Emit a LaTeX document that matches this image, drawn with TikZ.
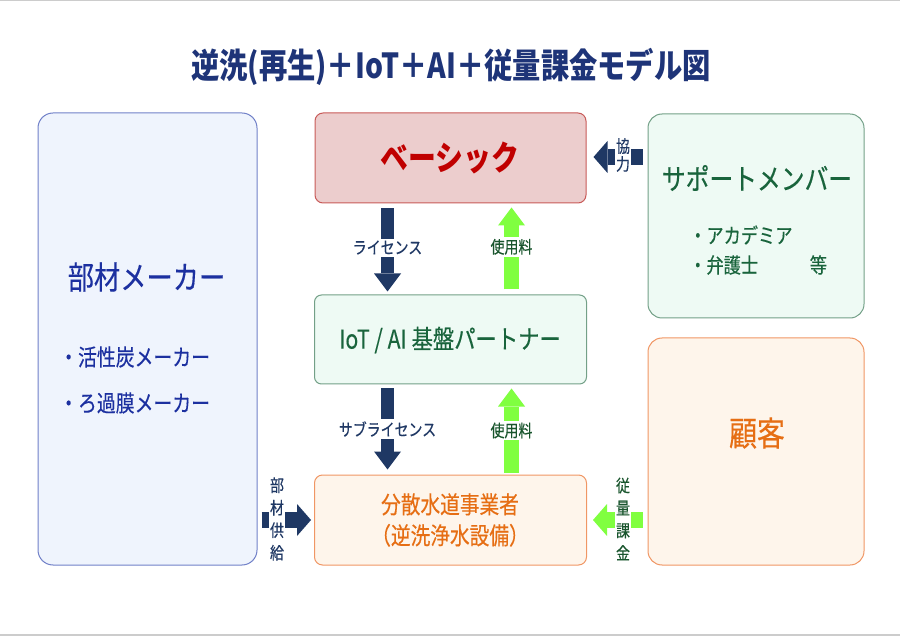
\documentclass[tikz,border=0pt]{standalone}
\usepackage{fontspec}
\setmainfont[FakeStretch=0.82,UprightFeatures={FakeBold=0.35}]{Noto Sans CJK JP}
\usetikzlibrary{arrows.meta,calc}
\definecolor{navy}{RGB}{31,56,100}
\definecolor{titleblue}{RGB}{30,52,120}
\definecolor{leftblue}{RGB}{28,48,160}
\definecolor{leftfill}{RGB}{239,244,253}
\definecolor{leftdraw}{RGB}{112,128,200}
\definecolor{redfill}{RGB}{236,205,205}
\definecolor{reddraw}{RGB}{200,90,88}
\definecolor{redtext}{RGB}{192,0,0}
\definecolor{grnfill}{RGB}{238,250,244}
\definecolor{grndraw}{RGB}{115,160,135}
\definecolor{grntext}{RGB}{25,100,60}
\definecolor{orgfill}{RGB}{254,245,235}
\definecolor{orgdraw}{RGB}{240,150,100}
\definecolor{orgtext}{RGB}{230,110,20}
\definecolor{arrgreen}{RGB}{128,255,64}
\definecolor{lblgreen}{RGB}{25,85,45}
\tikzset{
  box/.style={draw, line width=1pt, inner sep=0pt},
  bluebox/.style={box, fill=leftfill, draw=leftdraw},
  redbox/.style={box, fill=redfill, draw=reddraw},
  grnbox/.style={box, fill=grnfill, draw=grndraw},
  orgbox/.style={box, fill=orgfill, draw=orgdraw},
  txt/.style={inner sep=0pt, align=center},
  vnavy/.style={draw=navy, line width=13pt, -{Triangle[width=27pt,length=18pt,line width=0pt]}},
  vgreen/.style={draw=arrgreen, line width=15pt, -{Triangle[width=27pt,length=18pt,line width=0pt]}},
  hnavy/.style={draw=navy, line width=16pt, -{Triangle[width=32pt,length=14pt,line width=0pt]}},
  hgreen/.style={draw=arrgreen, line width=16pt, -{Triangle[width=32pt,length=14pt,line width=0pt]}},
  lbl/.style={fill=white, inner sep=2pt, align=center, font=\fontsize{17}{21}\selectfont},
}
\begin{document}
\begin{tikzpicture}[x=1pt,y=-1pt]
\useasboundingbox (0,0) rectangle (900,636);
\fill[gray!40] (0,0) rectangle (900,1.5);
\fill[gray!40] (0,634) rectangle (900,636);

\node[txt, text=titleblue, font=\fontsize{34.5}{38}\selectfont\bfseries] (title) at (451,67) {逆洗(再生)＋IoT＋AI＋従量課金モデル図};

% boxes
\node[bluebox, rounded corners=15pt, minimum width=219pt, minimum height=452pt] (left) at (147.5,339) {};
\node[redbox, rounded corners=8pt, minimum width=271pt, minimum height=90pt] (basic) at (450.5,158) {};
\node[grnbox, rounded corners=14pt, minimum width=216pt, minimum height=204pt] (support) at (756,216) {};
\node[grnbox, rounded corners=7pt, minimum width=272pt, minimum height=89pt] (iot) at (450.5,339.5) {};
\node[orgbox, rounded corners=14pt, minimum width=216pt, minimum height=227pt] (cust) at (756,451.5) {};
\node[orgbox, rounded corners=8pt, minimum width=272pt, minimum height=90pt] (dist) at (450.5,520) {};

% texts
\node[txt, text=leftblue, font=\fontsize{32}{36}\selectfont] (lefttitle) at (146.5,277) {部材メーカー};
\node[txt, text=leftblue, font=\fontsize{23}{27}\selectfont, anchor=west] (leftitem1) at (59,357) {・活性炭メーカー};
\node[txt, text=leftblue, font=\fontsize{23}{27}\selectfont, anchor=west] (leftitem2) at (59,403) {・ろ過膜メーカー};

\node[txt, text=redtext, font=\fontsize{34}{38}\selectfont\bfseries] (basictitle) at (450,158) {ベーシック};

\node[txt, text=grntext, font=\fontsize{29}{33}\selectfont] (supporttitle) at (757,178) {サポートメンバー};
\node[txt, text=grntext, font=\fontsize{21}{25}\selectfont, anchor=west] (supportitem1) at (689,235) {・アカデミア};
\node[txt, text=grntext, font=\fontsize{21}{25}\selectfont, anchor=west] (supportitem2) at (689,265) {・弁護士　　　等};

\node[txt, text=grntext, font=\fontsize{26}{30}\selectfont] (iottitle) at (450,340) {IoT / AI 基盤パートナー};

\node[txt, text=orgtext, font=\fontsize{34}{38}\selectfont] (custtitle) at (757,433) {顧客};

\node[txt, text=orgtext, font=\fontsize{24}{31}\selectfont] (disttitle) at (450,520) {分散水道事業者\\（逆洗浄水設備）};

% vertical arrows
\draw[vnavy] ($(basic.south)+(-63,5)$) -- ($(iot.north)+(-63,-3)$)
  node[lbl, text=navy, pos=0.47] (lic) {ライセンス};
\draw[vgreen] ($(iot.north)+(61,-5)$) -- ($(basic.south)+(61,4)$)
  node[lbl, text=lblgreen, pos=0.52] (fee1) {使用料};
\draw[vnavy] ($(iot.south)+(-63,4)$) -- ($(dist.north)+(-63,-5)$)
  node[lbl, text=navy, pos=0.5] (sublic) {サブライセンス};
\draw[vgreen] ($(dist.north)+(61,-2)$) -- ($(iot.south)+(61,4)$)
  node[lbl, text=lblgreen, pos=0.5] (fee2) {使用料};

% horizontal arrows
\draw[hnavy] ($(support.west |- basic.east)+(-5,-1)$) -- ($(basic.east)+(7,-1)$);
\node[lbl, text=navy, inner sep=1.5pt, font=\fontsize{17}{18}\selectfont] (coop) at (623,155) {協\\力};

\draw[hnavy] ($(left.east |- dist.west)+(4,0)$) -- ($(dist.west)+(-3,0)$);
\node[lbl, text=navy, inner sep=1.5pt, font=\fontsize{17}{22.5}\selectfont] (supply) at (277,519) {部\\材\\供\\給};

\draw[hgreen] ($(cust.west |- dist.east)+(-5,0)$) -- ($(dist.east)+(6,0)$);
\node[lbl, text=lblgreen, inner sep=1.5pt, font=\fontsize{17}{22.5}\selectfont] (charge) at (623,519) {従\\量\\課\\金};
\end{tikzpicture}
\end{document}
